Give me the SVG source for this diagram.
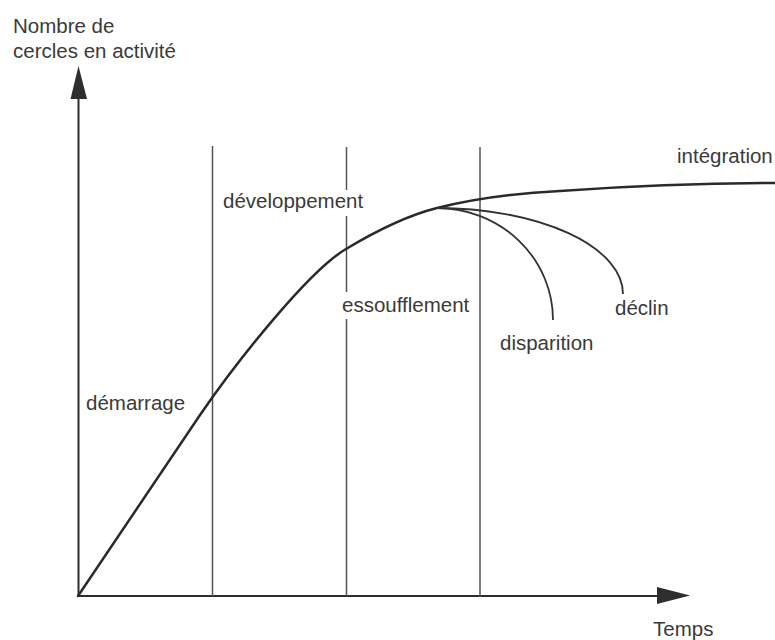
<svg xmlns="http://www.w3.org/2000/svg" width="775" height="640" viewBox="0 0 775 640">
<style>
text{font-family:"Liberation Sans",Arial,sans-serif;font-size:20.5px;fill:#3a3a3a}
.axis{stroke:#2e2e2e;stroke-width:2;fill:none}
.grid{stroke:#555;stroke-width:1.5;fill:none}
.curve{stroke:#2a2a2a;stroke-width:2.5;fill:none;stroke-linecap:round}
.branch{stroke:#333;stroke-width:1.8;fill:none}
.head{fill:#2e2e2e}
</style>
<rect width="775" height="640" fill="#fff"/>
<g id="axes">
<line class="axis" x1="78.5" y1="596" x2="78.5" y2="96"/>
<polygon class="head" points="78.5,66 70.5,99 87,99"/>
<line class="axis" x1="78" y1="596" x2="660" y2="596"/>
<polygon class="head" points="690,595.5 657,587 657,604"/>
<text x="13" y="33">Nombre de</text>
<text x="13" y="58">cercles en activité</text>
<text x="653" y="636">Temps</text>
</g>
<g id="phase-lines">
<line class="grid" x1="212.5" y1="146" x2="212.5" y2="596"/>
<line class="grid" x1="346.5" y1="147" x2="346.5" y2="190"/>
<line class="grid" x1="346.5" y1="216" x2="346.5" y2="292"/>
<line class="grid" x1="346.5" y1="319" x2="346.5" y2="596"/>
<line class="grid" x1="480" y1="147" x2="480" y2="596"/>
</g>
<g id="connectors">
<path id="main-curve" class="curve" d="M78,596 L200,415 C240,357 310,270 346,249 C376,231 407,215.5 437,208 C477,198 520,193 560,191 C630,186 700,183 775,183"/>
<path id="disparition-curve" class="branch" d="M437,208 A116,112 0 0 1 553,320"/>
<path id="declin-curve" class="branch" d="M437,208 A186,86 0 0 1 623,294"/>
</g>
<g id="label-demarrage"><text x="86" y="410">démarrage</text></g>
<g id="label-developpement"><text x="223" y="208">développement</text></g>
<g id="label-essoufflement"><text x="342" y="312">essoufflement</text></g>
<g id="label-disparition"><text x="500" y="350">disparition</text></g>
<g id="label-declin"><text x="615" y="315">déclin</text></g>
<g id="label-integration"><text x="677" y="163">intégration</text></g>
</svg>
